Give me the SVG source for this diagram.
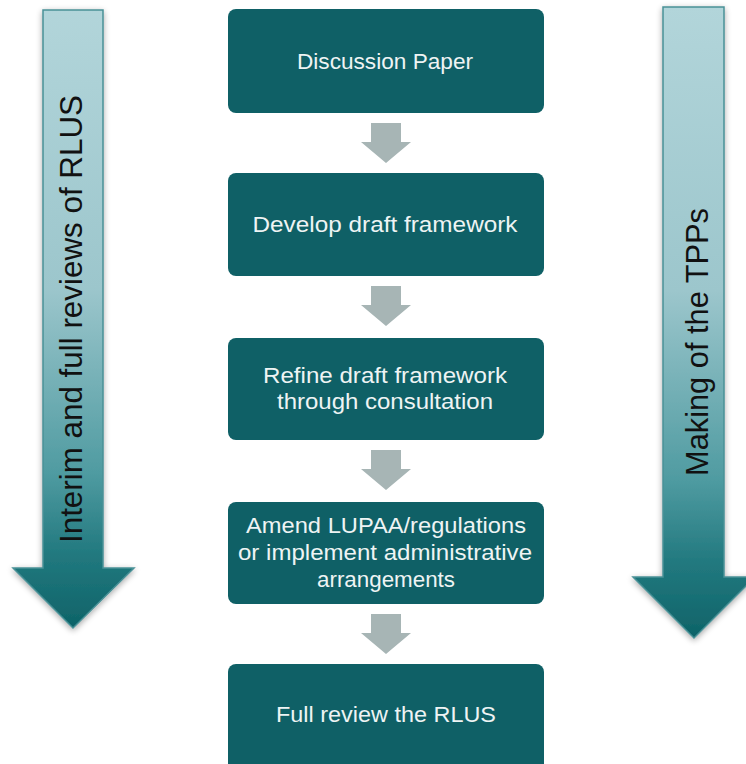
<svg xmlns="http://www.w3.org/2000/svg" width="746" height="764" viewBox="0 0 746 764">
<defs>
<linearGradient id="gL" gradientUnits="userSpaceOnUse" x1="0" y1="10" x2="0" y2="628">
<stop offset="0" stop-color="#b2d5da"/>
<stop offset="0.45" stop-color="#9cc6cc"/>
<stop offset="0.75" stop-color="#4f9ba1"/>
<stop offset="0.88" stop-color="#22797f"/>
<stop offset="1" stop-color="#0e6368"/>
</linearGradient>
<linearGradient id="gR" gradientUnits="userSpaceOnUse" x1="0" y1="7" x2="0" y2="638">
<stop offset="0" stop-color="#b2d5da"/>
<stop offset="0.45" stop-color="#9cc6cc"/>
<stop offset="0.75" stop-color="#4f9ba1"/>
<stop offset="0.88" stop-color="#22797f"/>
<stop offset="1" stop-color="#0e6368"/>
</linearGradient>
<filter id="sh" x="-30%" y="-5%" width="160%" height="110%">
<feGaussianBlur in="SourceAlpha" stdDeviation="3"/>
<feOffset dx="0" dy="2" result="b"/>
<feComponentTransfer><feFuncA type="linear" slope="0.35"/></feComponentTransfer>
<feMerge><feMergeNode/><feMergeNode in="SourceGraphic"/></feMerge>
</filter>
</defs>
<style>
.box{fill:#0f6066;}
.bt{font-family:"Liberation Sans",Arial,sans-serif;font-size:22px;fill:#eef4f4;text-anchor:middle;}
.side{font-family:"Liberation Sans",Arial,sans-serif;font-size:32px;fill:#111;text-anchor:middle;}
.big{stroke:#4a9197;stroke-width:1.5;}
.ga{fill:#a7b5b5;}
</style>
<rect width="746" height="764" fill="#ffffff"/>

<g id="left-arrow">
<path class="big" d="M43,10 H103 V568 H134 L73,628 L13,568 H43 Z" fill="url(#gL)" filter="url(#sh)"/>
<text class="side" transform="translate(82,319) rotate(-90)" textLength="448" lengthAdjust="spacingAndGlyphs">Interim and full reviews of RLUS</text>
</g>

<g id="right-arrow">
<path class="big" d="M663,7 H724 V577 H755 L694,638 L633,577 H663 Z" fill="url(#gR)" filter="url(#sh)"/>
<text class="side" transform="translate(708,342) rotate(-90)" textLength="268" lengthAdjust="spacingAndGlyphs">Making of the TPPs</text>
</g>

<g id="connectors">
<path class="ga" d="M371,123 H401 V142 H411 L386,163 L361,142 H371 Z"/>
<path class="ga" d="M371,286 H401 V305 H411 L386,326 L361,305 H371 Z"/>
<path class="ga" d="M371,450 H401 V469 H411 L386,490 L361,469 H371 Z"/>
<path class="ga" d="M371,614 H401 V633 H411 L386,654 L361,633 H371 Z"/>
</g>

<g id="n1">
<rect class="box" x="228" y="9" width="316" height="104" rx="8"/>
<text class="bt" x="385" y="69" textLength="176" lengthAdjust="spacingAndGlyphs">Discussion Paper</text>
</g>
<g id="n2">
<rect class="box" x="228" y="173" width="316" height="103" rx="8"/>
<text class="bt" x="385" y="232" textLength="265" lengthAdjust="spacingAndGlyphs">Develop draft framework</text>
</g>
<g id="n3">
<rect class="box" x="228" y="338" width="316" height="102" rx="8"/>
<text class="bt" x="385" y="383" textLength="244" lengthAdjust="spacingAndGlyphs">Refine draft framework</text>
<text class="bt" x="385" y="409" textLength="216" lengthAdjust="spacingAndGlyphs">through consultation</text>
</g>
<g id="n4">
<rect class="box" x="228" y="502" width="316" height="102" rx="8"/>
<text class="bt" x="386" y="533" textLength="280" lengthAdjust="spacingAndGlyphs">Amend LUPAA/regulations</text>
<text class="bt" x="385" y="560" textLength="294" lengthAdjust="spacingAndGlyphs">or implement administrative</text>
<text class="bt" x="386" y="587" textLength="138" lengthAdjust="spacingAndGlyphs">arrangements</text>
</g>
<g id="n5">
<rect class="box" x="228" y="664" width="316" height="110" rx="8"/>
<text class="bt" x="386" y="722" textLength="220" lengthAdjust="spacingAndGlyphs">Full review the RLUS</text>
</g>
</svg>
